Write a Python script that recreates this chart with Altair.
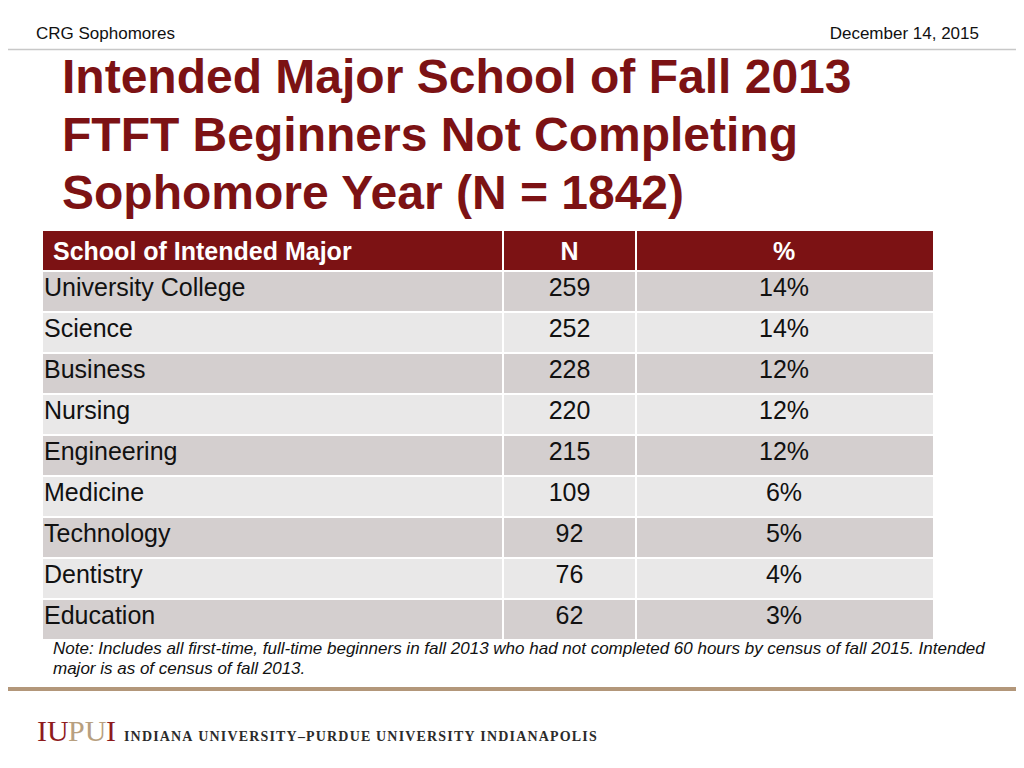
import altair as alt
import pandas as pd

# ---------------- data ----------------
schools = ["University College", "Science", "Business", "Nursing", "Engineering",
           "Medicine", "Technology", "Dentistry", "Education"]
counts = [259, 252, 228, 220, 215, 109, 92, 76, 62]
percents = ["14%", "14%", "12%", "12%", "12%", "6%", "5%", "4%", "3%"]
headers = ["School of Intended Major", "N", "%"]

title_lines = ["Intended Major School of Fall 2013",
               "FTFT Beginners Not Completing",
               "Sophomore Year (N = 1842)"]
note_lines = ["Note: Includes all first-time, full-time beginners in fall 2013 who had not completed 60 hours by census of fall 2015. Intended",
              "major is as of census of fall 2013."]
top_left = "CRG Sophomores"
top_right = "December 14, 2015"
logo_parts = ["IU", "PU", "I"]
tagline = "INDIANA UNIVERSITY\u2013PURDUE UNIVERSITY INDIANAPOLIS"

# ---------------- layout / style ----------------
W, H = 1008, 752
FONT = "Liberation Sans"
SERIF = "Liberation Serif"
RED = "#7c1214"
TAN = "#b3977a"
col_edges = [(35, 494), (496, 627), (629, 925)]
col_text_x = [36, 561.5, 776]
header_text_x0 = 45

rows = []
for c in range(3):
    x0, x1 = col_edges[c]
    rows.append(dict(row=0, col=c, x0=x0, x1=x1, tx=header_text_x0 if c == 0 else col_text_x[c],
                     kind="header", label=headers[c]))
for i, (s, n, p) in enumerate(zip(schools, counts, percents)):
    r = i + 1
    kind = "odd" if r % 2 == 1 else "even"
    vals = [s, str(n), p]
    for c in range(3):
        x0, x1 = col_edges[c]
        rows.append(dict(row=r, col=c, x0=x0, x1=x1, tx=col_text_x[c], kind=kind, label=vals[c]))
cells = pd.DataFrame(rows)

xscale = alt.Scale(domain=[0, W], range=[0, W], nice=False, zero=False)
yscale = alt.Scale(type="band", domain=list(range(10)), range=[223, 631],
                   paddingInner=0.05, paddingOuter=0)

base = alt.Chart(cells)

rects = base.mark_rect().encode(
    x=alt.X("x0:Q", scale=xscale, axis=None),
    x2="x1:Q",
    y=alt.Y("row:O", scale=yscale, axis=None),
    color=alt.Color("kind:N", legend=None,
                    scale=alt.Scale(domain=["header", "odd", "even"],
                                    range=[RED, "#d4cfcf", "#e9e8e8"])),
)

def txt(filter_expr, align, dy, bold, color):
    return base.transform_filter(filter_expr).mark_text(
        align=align, baseline="alphabetic", dy=dy, font=FONT, fontSize=25,
        fontWeight="bold" if bold else "normal", color=color,
    ).encode(
        x=alt.X("tx:Q", scale=xscale, axis=None),
        y=alt.Y("row:O", scale=yscale, axis=None),
        text="label:N",
    )

head_left = txt("datum.row == 0 && datum.col == 0", "left", 9.5, True, "white")
head_center = txt("datum.row == 0 && datum.col > 0", "center", 9.5, True, "white")
body_left = txt("datum.row > 0 && datum.col == 0", "left", 4.5, False, "#111111")
body_center = txt("datum.row > 0 && datum.col > 0", "center", 4.5, False, "#111111")

one = pd.DataFrame({"a": [0]})

def label(text, x, y, size, align="left", weight="normal", color="black", style="normal",
          font=FONT, line_height=None):
    kw = dict(align=align, baseline="alphabetic", fontSize=size, fontWeight=weight,
              color=color, fontStyle=style, font=font)
    if line_height:
        kw["lineHeight"] = line_height
    return alt.Chart(one).mark_text(**kw).encode(
        x=alt.value(x), y=alt.value(y), text=alt.value(text))

top_l = label(top_left, 28, 30.5, 17, color="#111111")
top_r = label(top_right, 971, 30.5, 17, align="right", color="#111111")
gray_rule = alt.Chart(one).mark_rule(color="#c8c8c8", strokeWidth=1.5).encode(
    x=alt.value(0), x2=alt.value(W), y=alt.value(41.5))
title = label(title_lines, 54, 84.5, 48, weight="bold", color=RED, line_height=58)
note = label(note_lines, 45, 645.5, 17, style="italic", color="#111111", line_height=20.5)
tan_rule = alt.Chart(one).mark_rule(color=TAN, strokeWidth=4).encode(
    x=alt.value(0), x2=alt.value(W), y=alt.value(681))
logo1 = label(logo_parts[0], 29, 733, 30, color="#8e1b1d", font=SERIF)
logo2 = label(logo_parts[1], 60, 733, 30, color="#b8a07f", font=SERIF)
logo3 = label(logo_parts[2], 98, 733, 30, color="#8e1b1d", font=SERIF)
spaced = "\u200a".join(tagline)
tag = label(spaced, 116, 732.5, 14, weight="bold", color="#2b2b2b", font=SERIF)

chart = alt.layer(
    rects, head_left, head_center, body_left, body_center,
    top_l, top_r, gray_rule, title, note, tan_rule, logo1, logo2, logo3, tag,
).properties(
    width=W, height=H, padding=0, background="white",
    autosize=alt.AutoSizeParams(type="none"),
).configure_view(strokeWidth=0)

chart.save("out.html", embed_options={"renderer": "svg", "actions": False})
